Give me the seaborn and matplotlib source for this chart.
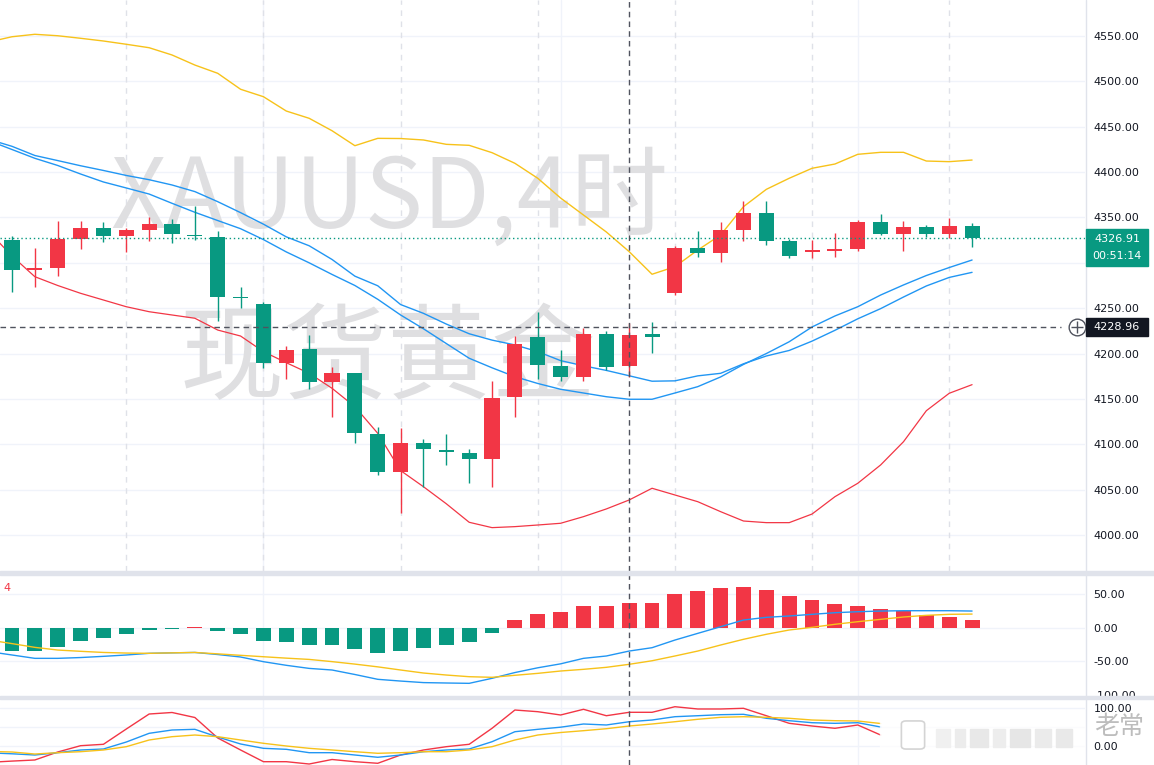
#XAUUSD 4h candlestick chart with Bollinger bands, MACD and KDJ panels (TradingView style).

#Importing libraries.
import numpy as np
import matplotlib
matplotlib.use('Agg')
import matplotlib.pyplot as plt
from matplotlib.patches import Rectangle, FancyBboxPatch
from matplotlib.lines import Line2D
import seaborn as sns

#Candle data (4h bars).
opens = [4325.5, 4292.4, 4294.6, 4326.6, 4338.0, 4329.9, 4336.2, 4342.8, 4331.0, 4328.1,
         4262.5, 4254.6, 4189.2, 4204.7, 4168.3, 4178.2, 4111.3, 4069.8, 4101.1, 4093.5,
         4090.0, 4083.4, 4151.8, 4217.9, 4186.3, 4173.8, 4221.5, 4186.6, 4221.0, 4267.1,
         4316.0, 4310.5, 4336.2, 4354.6, 4324.0, 4312.0, 4313.0, 4315.2, 4344.7, 4331.4,
         4339.1, 4331.4, 4340.6]
highs = [4329.6, 4316.0, 4346.1, 4346.0, 4344.7, 4338.7, 4350.2, 4348.3, 4362.6, 4335.4,
         4273.0, 4256.5, 4208.6, 4220.4, 4184.8, 4179.0, 4119.4, 4117.6, 4105.8, 4111.3,
         4094.5, 4169.7, 4219.7, 4245.5, 4203.9, 4227.8, 4224.9, 4234.0, 4234.4, 4318.5,
         4335.1, 4344.7, 4368.1, 4368.1, 4326.3, 4325.2, 4333.2, 4347.2, 4353.8, 4346.1,
         4341.7, 4349.1, 4344.2]
lows = [4268.2, 4273.0, 4285.8, 4314.9, 4323.3, 4312.3, 4324.4, 4321.5, 4325.2, 4236.2,
        4249.9, 4183.7, 4171.9, 4160.9, 4130.4, 4101.1, 4066.1, 4023.9, 4053.2, 4077.2,
        4057.0, 4052.6, 4130.4, 4171.9, 4169.7, 4169.7, 4181.9, 4174.5, 4200.9, 4264.5,
        4306.7, 4300.6, 4324.0, 4319.6, 4305.6, 4305.6, 4306.7, 4313.4, 4330.7, 4313.0,
        4328.8, 4327.7, 4317.8]
closes = [4291.8, 4293.2, 4325.9, 4338.0, 4329.9, 4335.8, 4342.8, 4332.1, 4329.6, 4262.7,
          4261.0, 4189.2, 4203.9, 4168.3, 4178.9, 4112.1, 4069.8, 4101.1, 4094.5, 4091.5,
          4083.4, 4150.7, 4210.5, 4187.4, 4173.8, 4221.5, 4185.5, 4220.4, 4218.0, 4316.0,
          4310.5, 4336.2, 4354.6, 4324.4, 4307.5, 4314.0, 4315.5, 4344.7, 4331.4, 4339.1,
          4331.4, 4340.6, 4326.91]

#Indicator lines: the first value belongs to the bar just left of the visible range.
bb_upper = [4543.5, 4549.2, 4551.9, 4550.3, 4547.5, 4544.5, 4540.9, 4537.1, 4529.1, 4518.0,
            4508.9, 4491.3, 4483.1, 4467.3, 4459.3, 4445.6, 4429.1, 4437.2, 4437.0, 4435.4,
            4430.6, 4429.5, 4421.4, 4409.7, 4393.2, 4371.4, 4352.7, 4334.0, 4312.3, 4287.4,
            4295.7, 4314.1, 4330.7, 4361.9, 4381.0, 4393.2, 4404.2, 4408.9, 4419.6, 4421.8,
            4421.8, 4412.2, 4411.5, 4413.3]
bb_mid = [4436.0, 4428.4, 4418.3, 4412.7, 4407.0, 4401.8, 4396.3, 4391.6, 4385.8, 4378.5,
          4367.4, 4355.3, 4342.6, 4328.6, 4318.8, 4303.7, 4285.3, 4274.7, 4254.0, 4244.3,
          4232.5, 4221.8, 4214.8, 4209.5, 4202.1, 4192.2, 4186.5, 4181.4, 4175.5, 4169.5,
          4169.9, 4175.4, 4178.2, 4188.7, 4197.3, 4203.4, 4213.7, 4225.6, 4238.3, 4249.5,
          4262.3, 4274.5, 4283.9, 4289.5]
ma_line = [4434.5, 4424.9, 4415.2, 4407.3, 4397.9, 4389.1, 4382.5, 4375.8, 4365.6, 4355.7,
           4346.6, 4337.6, 4325.6, 4312.0, 4300.0, 4287.2, 4275.0, 4259.8, 4242.5, 4227.3,
           4211.0, 4194.8, 4184.3, 4174.5, 4167.0, 4160.6, 4156.5, 4152.4, 4149.6, 4149.6,
           4156.5, 4163.5, 4174.2, 4188.0, 4200.0, 4213.0, 4229.3, 4241.4, 4251.6, 4264.5,
           4275.6, 4286.0, 4294.8, 4303.1]
bb_lower = [4334.0, 4307.5, 4284.7, 4275.0, 4266.4, 4259.0, 4251.6, 4246.1, 4242.5, 4238.9,
            4225.9, 4219.3, 4202.1, 4189.9, 4178.2, 4161.7, 4141.4, 4112.1, 4071.0, 4053.2,
            4034.4, 4014.0, 4008.1, 4009.2, 4011.0, 4012.9, 4020.2, 4028.7, 4038.6, 4051.5,
            4044.1, 4036.7, 4025.7, 4015.4, 4013.6, 4013.6, 4023.1, 4042.2, 4057.0, 4077.2,
            4102.8, 4137.0, 4156.2, 4165.7]

#MACD panel.
macd_hist = [-34.6, -35.0, -28.6, -19.7, -15.2, -9.2, -3.7, -2.7, 1.0, -4.8,
             -9.2, -19.7, -21.6, -25.6, -25.6, -31.6, -37.6, -34.6, -30.1, -25.6,
             -21.2, -7.7, 11.2, 20.1, 23.6, 32.1, 32.1, 36.6, 36.6, 50.0,
             54.5, 59.0, 60.4, 56.0, 47.0, 41.0, 35.0, 32.1, 27.6, 24.6,
             18.7, 15.7, 11.2]
macd_line = [-36.0, -41.0, -46.0, -46.0, -44.8, -43.0, -41.0, -38.5, -37.8, -37.2, -40.3,
             -44.0, -51.0, -56.4, -61.0, -63.4, -70.1, -77.3, -79.9, -82.2, -82.8,
             -83.3, -75.8, -67.2, -60.1, -54.2, -46.0, -42.5, -35.1, -30.1, -18.7,
             -8.7, 1.2, 11.2, 15.2, 17.2, 19.7, 22.1, 23.6, 24.6, 25.1,
             25.1, 25.1, 24.6]
signal_line = [-18.7, -24.0, -29.6, -33.6, -35.5, -37.2, -38.1, -38.5, -37.8, -37.2, -39.3,
               -41.5, -43.6, -45.7, -47.6, -50.9, -54.6, -58.7, -63.4, -67.9, -70.9,
               -73.4, -74.3, -71.3, -68.4, -64.9, -62.4, -59.4, -54.9, -49.6, -42.5,
               -35.1, -26.1, -17.6, -10.1, -3.7, 0.3, 4.8, 8.7, 12.2, 15.7,
               18.2, 19.7, 20.1]

#KDJ panel (the last bars are hidden under the watermark).
k_line = [-18.0, -20.5, -23.7, -17.6, -10.5, -7.9, 10.5, 33.4, 42.1, 43.9, 23.7,
          5.3, -6.1, -8.7, -17.6, -17.6, -23.7, -29.7, -23.7, -15.0, -10.5,
          -7.9, 11.3, 37.6, 43.9, 49.5, 57.9, 55.3, 63.9, 68.4, 77.1,
          79.7, 82.4, 83.4, 72.9, 66.6, 61.3, 59.7, 61.3, 50.0]
d_line = [-14.3, -15.8, -21.1, -17.6, -15.0, -10.5, -1.8, 15.8, 24.5, 28.9, 24.5,
          15.8, 7.1, 0.0, -6.1, -10.5, -15.0, -19.2, -17.6, -15.0, -15.0,
          -10.5, -1.8, 15.8, 28.9, 35.5, 40.3, 45.5, 52.6, 57.9, 63.9,
          70.3, 75.5, 77.1, 75.5, 72.9, 68.4, 66.6, 65.8, 59.2]
j_line = [-43.0, -39.7, -36.8, -15.8, 0.8, 4.5, 44.7, 84.2, 88.2, 75.0, 21.1,
          -10.5, -41.3, -41.3, -47.4, -35.5, -41.3, -45.5, -23.7, -10.5, -1.8,
          4.5, 46.6, 94.7, 90.3, 81.6, 96.6, 79.7, 88.7, 88.7, 103.4,
          97.4, 97.4, 99.2, 79.7, 59.7, 52.6, 46.6, 55.3, 28.9]

#Axis labels and marked prices.
price_ticks = [4000, 4050, 4100, 4150, 4200, 4250, 4300, 4350, 4400, 4450, 4500, 4550]
macd_ticks = [50, 0, -50, -100]
kdj_grid = [100, 50, 0]
kdj_ticks = [100, 0]
last_price = 4326.91
cross_price = 4228.96
countdown = '00:51:14'
cross_bar = 27
session_bars = [5, 11, 17, 23, 29, 35, 41]
grid_bars = [11, 24, 37]

#Colours.
UP = '#F23645'
DOWN = '#089981'
GRID = '#f0f3fa'
BLUE = '#2196F3'
GOLD = '#F7C21A'

sns.set_style('white')
plt.rcParams['font.family'] = ['DejaVu Sans', 'Noto Sans CJK SC']

W, H = 1154, 765
fig = plt.figure(figsize=(W / 100, H / 100), dpi=100)

def fx(px):
    return px / W

def fy(py):
    return 1 - py / H

ax_main = fig.add_axes([0, fy(571), fx(1085), 571 / H])
ax_macd = fig.add_axes([0, fy(696), fx(1085), (696 - 575) / H])
ax_kdj = fig.add_axes([0, 0, fx(1085), (765 - 699) / H])
axes = [ax_main, ax_macd, ax_kdj]

idx = np.arange(len(closes))
line_x = np.arange(-1, len(closes))
xlim = (-0.525, 46.94)

for ax in axes:
    ax.set_xlim(*xlim)
    ax.set_xticks([])
    for s in ax.spines.values():
        s.set_visible(False)
    ax.yaxis.tick_right()
    ax.tick_params(axis='y', length=0, labelsize=8, labelcolor='#131722', pad=6)
    for b in grid_bars:
        ax.axvline(b, color=GRID, lw=1, zorder=0)
    #Crosshair (vertical).
    ax.axvline(cross_bar, color='#50535e', lw=1, ls=(0, (4, 3)), zorder=6)

#Price panel.
ax_main.set_ylim(3960.3, 4589.7)
ax_main.set_yticks(price_ticks)
ax_main.set_yticklabels([f'{p:.2f}' for p in price_ticks])
for p in price_ticks:
    ax_main.axhline(p, color=GRID, lw=1, zorder=0)
for b in session_bars:
    ax_main.axvline(b, color='#dfe1e8', lw=1, ls=(0, (4, 4)), zorder=0)

#Watermark.
ax_main.text(389 / 1085, 1 - 200 / 571, 'XAUUSD,4时', transform=ax_main.transAxes,
             fontsize=70, color='#dfdfe1', ha='center', va='center',
             family=['Noto Sans CJK SC'], zorder=1)
ax_main.text(388 / 1085, 1 - 362 / 571, '现货黄金', transform=ax_main.transAxes,
             fontsize=75, color='#dfdfe1', ha='center', va='center',
             family=['Noto Sans CJK SC'], zorder=1)

#Bollinger bands and moving average.
sns.lineplot(x=line_x, y=bb_upper, ax=ax_main, color=GOLD, lw=1, zorder=2)
sns.lineplot(x=line_x, y=bb_mid, ax=ax_main, color=BLUE, lw=1, zorder=2)
sns.lineplot(x=line_x, y=ma_line, ax=ax_main, color=BLUE, lw=1, zorder=2)
sns.lineplot(x=line_x, y=bb_lower, ax=ax_main, color=UP, lw=0.9, zorder=2)

#Candles.
o = np.array(opens)
c = np.array(closes)
colors = [UP if cc >= oo else DOWN for oo, cc in zip(o, c)]
body_low = np.minimum(o, c)
body_h = np.maximum(np.abs(c - o), 1.6)
ax_main.vlines(idx, lows, highs, colors=colors, lw=1, zorder=3)
ax_main.bar(idx, body_h, bottom=body_low, width=0.66, color=colors, lw=0, zorder=4)

#Last price and crosshair lines.
ax_main.axhline(last_price, color=DOWN, lw=1, ls=(0, (1, 2)), zorder=5)
ax_main.hlines(cross_price, xlim[0], 45.9, color='#50535e', lw=1, ls=(0, (4, 3)), zorder=6)
ax_main.plot(46.6, cross_price, marker='o', ms=12, mfc='white', mec='#50535e', mew=1,
             clip_on=False, zorder=7)
ax_main.plot(46.6, cross_price, marker='+', ms=8, mec='#50535e', mew=1,
             clip_on=False, zorder=8)

#MACD panel.
ax_macd.set_ylim(-102.2, 78.4)
ax_macd.set_yticks(macd_ticks)
ax_macd.set_yticklabels([f'{v:.2f}' for v in macd_ticks])
for v in macd_ticks[:3]:
    ax_macd.axhline(v, color=GRID, lw=1, zorder=0)
hist_colors = [UP if h >= 0 else DOWN for h in macd_hist]
ax_macd.bar(idx, macd_hist, width=0.65, color=hist_colors, lw=0, zorder=2)
sns.lineplot(x=line_x, y=macd_line, ax=ax_macd, color=BLUE, lw=1, zorder=3)
sns.lineplot(x=line_x, y=signal_line, ax=ax_macd, color=GOLD, lw=1, zorder=3)
ax_macd.text(0.003, 0.89, '4', transform=ax_macd.transAxes, color=UP, fontsize=8,
             ha='left', va='center')

#KDJ panel.
ax_kdj.set_ylim(-50, 123.7)
ax_kdj.set_yticks(kdj_ticks)
ax_kdj.set_yticklabels([f'{v:.2f}' for v in kdj_ticks])
for v in kdj_grid:
    ax_kdj.axhline(v, color=GRID, lw=1, zorder=0)
kx = line_x[:len(k_line)]
sns.lineplot(x=kx, y=j_line, ax=ax_kdj, color=UP, lw=1, zorder=3)
sns.lineplot(x=kx, y=k_line, ax=ax_kdj, color=BLUE, lw=1, zorder=3)
sns.lineplot(x=kx, y=d_line, ax=ax_kdj, color=GOLD, lw=1, zorder=3)

#Panel separators and price scale border.
fig.add_artist(Rectangle((0, fy(575)), 1, 4 / H, transform=fig.transFigure,
                         color='#e0e3eb', zorder=9))
fig.add_artist(Rectangle((0, fy(699)), 1, 3 / H, transform=fig.transFigure,
                         color='#e0e3eb', zorder=9))
fig.add_artist(Line2D([fx(1085.5), fx(1085.5)], [0, 1], transform=fig.transFigure,
                      color='#e0e3eb', lw=1, zorder=9))

#Price scale labels.
fig.add_artist(Rectangle((fx(1086), fy(266)), fx(1148) - fx(1086), 37 / H,
                         transform=fig.transFigure, color=DOWN, zorder=10))
fig.text(fx(1117), fy(239), f'{last_price:.2f}', color='white', fontsize=8,
         ha='center', va='center', zorder=11)
fig.text(fx(1117), fy(256), countdown, color='white', fontsize=8,
         ha='center', va='center', zorder=11)
fig.add_artist(Rectangle((fx(1086), fy(336)), fx(1148) - fx(1086), 18 / H,
                         transform=fig.transFigure, color='#131722', zorder=10))
fig.text(fx(1117), fy(327), f'{cross_price:.2f}', color='white', fontsize=8,
         ha='center', va='center', zorder=11)

#Bottom-right watermark.
fig.add_artist(Rectangle((fx(880), 0), fx(1084) - fx(880), 47 / H,
                         transform=fig.transFigure, color='white', alpha=0.75, zorder=12))
fig.add_artist(FancyBboxPatch((fx(906), fy(746)), 14 / W, 22 / H,
                              boxstyle='round,pad=0.004', transform=fig.transFigure,
                              fc='white', ec='#d4d4d4', lw=1.2, zorder=12))
for x0, w, col in [(936, 14, '#f0f0f0'), (955, 10, '#ececec'), (970, 18, '#e8e8e8'),
                   (993, 12, '#ededed'), (1010, 20, '#e6e6e6'), (1035, 16, '#ebebeb'),
                   (1056, 16, '#e9e9e9')]:
    fig.add_artist(Rectangle((fx(x0), fy(747)), w / W, 18 / H, transform=fig.transFigure,
                             color=col, zorder=12))
fig.text(fx(1119), fy(727), '老常', color='#bdbdbd', fontsize=18, ha='center',
         va='center', family=['Noto Sans CJK SC'], zorder=13)

plt.savefig('out.png', dpi=100)
